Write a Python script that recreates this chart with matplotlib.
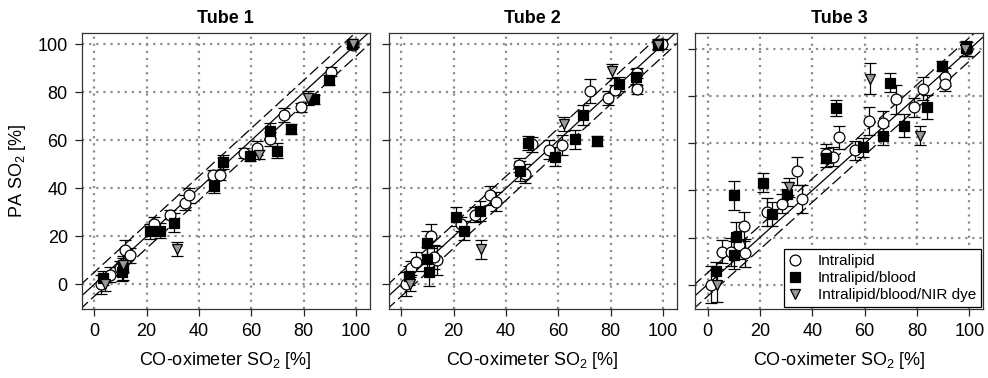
import matplotlib
matplotlib.use("Agg")
import matplotlib.pyplot as plt
import numpy as np

plt.rcParams['font.family'] = ['Liberation Sans', 'DejaVu Sans']
plt.rcParams['mathtext.fontset'] = 'custom'
plt.rcParams['mathtext.rm'] = 'Liberation Sans'

titles = ["Tube 1", "Tube 2", "Tube 3"]
series_names = ["Intralipid", "Intralipid/blood", "Intralipid/blood/NIR dye"]

# Tube 1
t1_lip_x = [2.5, 6, 10, 11.8, 13.7, 23, 29, 34.6, 36.3, 45.4, 48, 57, 62, 67, 72.3, 79, 90.5, 98.7]
t1_lip_y = [0, 4, 6.7, 14.3, 12, 25, 29, 34, 37, 45.5, 45.5, 54.6, 56.7, 60.4, 70.5, 73.7, 88.6, 99.7]
t1_lip_e = [4, 3, 3, 4, 3, 3, 2, 3, 3, 2, 2, 2, 3, 3, 3, 2, 2, 1]
t1_bld_x = [3.5, 10.5, 11, 21.3, 25, 30.5, 45.7, 49.2, 59.4, 67, 69.8, 75, 83.8, 89.6, 98.4]
t1_bld_y = [2.5, 5.3, 6.7, 22, 22.4, 25.7, 41, 51, 53.5, 64, 55.7, 64.6, 77, 85, 100]
t1_bld_e = [3, 4, 5, 3, 3, 4, 3, 3, 2, 3, 3, 2, 2, 2, 1]
t1_dye_x = [4.2, 11, 31.7, 63, 81.6, 98.7]
t1_dye_y = [0, 8, 14.6, 54, 77.5, 100]
t1_dye_e = [3, 3, 3, 2, 3, 1]

# Tube 2
t2_lip_x = [1.7, 3.8, 5.5, 11.4, 13.7, 12.5, 22.9, 28.3, 33.8, 36, 44.9, 47.4, 50, 56.3, 61.4, 72, 78.8, 81.7, 90, 90, 99.5]
t2_lip_y = [0, 6.7, 9.4, 20.3, 10, 11.5, 25, 29, 37, 34.4, 49.7, 46, 58.3, 56, 58, 80.6, 77.5, 81, 81.2, 88, 100]
t2_lip_e = [5, 3, 4, 5, 6, 5, 3, 3, 4, 4, 3, 4, 3, 4, 4, 5, 3, 2, 2, 2, 2]
t2_bld_x = [2.9, 9.9, 9.7, 10.5, 21, 23.9, 30, 45.2, 48.4, 58.8, 66.5, 69.4, 74.7, 83.2, 89.6, 98.2]
t2_bld_y = [3.6, 17, 10.4, 5.3, 28.2, 22.4, 30.5, 47.2, 58.75, 53.2, 60.4, 70.5, 59.7, 83.5, 86.5, 100]
t2_bld_e = [4, 5, 5, 6, 4, 4, 4, 4, 3, 4, 4, 4, 2, 3, 3, 2]
t2_dye_x = [3.3, 30.5, 62, 80.4, 98.2]
t2_dye_y = [0, 14.6, 66.7, 88.9, 99.7]
t2_dye_e = [3, 4, 3, 3, 2]

# Tube 3
t3_lip_x = [1.5, 5.6, 8.8, 12, 13.9, 14.2, 22.8, 28.5, 34, 35.9, 45.4, 47.8, 50.1, 56.5, 61.8, 67, 72.1, 78.8, 82.2, 90.6, 90.6, 99.1]
t3_lip_y = [0, 14, 14, 16.9, 24.7, 13.3, 30.7, 34.3, 48.3, 36.4, 55.7, 54.3, 62.6, 57.1, 69.4, 68.6, 78.7, 75.4, 83.3, 88.3, 85.4, 100]
t3_lip_e = [8, 5, 6, 6, 6, 6, 6, 4, 6, 6, 4, 4, 5, 4, 6, 5, 6, 4, 5, 4, 3, 3]
t3_bld_x = [3.3, 10, 10.7, 10.3, 21.2, 24.7, 30.4, 45.4, 49.1, 59.3, 66.9, 69.8, 75.2, 83.8, 89.6, 98.9]
t3_bld_y = [5.7, 37.9, 20.4, 12.6, 43.3, 30, 38.6, 54, 75.1, 58.3, 63.3, 85.9, 67.6, 75.4, 93, 100.4]
t3_bld_e = [4, 6, 6, 6, 4, 5, 5, 4, 3.5, 4, 4, 4, 5, 5, 2, 3]
t3_dye_x = [3.7, 31, 62, 81.3, 98.5]
t3_dye_y = [-0.3, 41.4, 87.6, 63.3, 100]
t3_dye_e = [7, 4, 6.7, 4, 3]

lip = [(t1_lip_x, t1_lip_y, t1_lip_e), (t2_lip_x, t2_lip_y, t2_lip_e), (t3_lip_x, t3_lip_y, t3_lip_e)]
bld = [(t1_bld_x, t1_bld_y, t1_bld_e), (t2_bld_x, t2_bld_y, t2_bld_e), (t3_bld_x, t3_bld_y, t3_bld_e)]
dye = [(t1_dye_x, t1_dye_y, t1_dye_e), (t2_dye_x, t2_dye_y, t2_dye_e), (t3_dye_x, t3_dye_y, t3_dye_e)]
ylims = [(-10.3, 104.8), (-10.3, 104.8), (-10.4, 107.1)]

fig = plt.figure(figsize=(9.88, 3.78), dpi=100)
lefts = [0.0827, 0.3934, 0.7034]

for i in range(3):
    ax = fig.add_axes([lefts[i], 0.1825, 0.2915, 0.731])
    ax.set_xlim(-4.8, 105.2)
    ax.set_ylim(*ylims[i])
    ticks = [0, 20, 40, 60, 80, 100]
    ax.set_xticks(ticks)
    ax.set_yticks(ticks)
    ax.grid(True, color='#8c8c8c', linestyle=(0, (1, 2.2)), linewidth=1.6)
    ax.set_axisbelow(True)
    ax.tick_params(direction='out', length=5, width=0.9, labelsize=13, pad=5, color='#222222')
    if i > 0:
        ax.tick_params(axis='y', labelleft=False)
    for sp in ax.spines.values():
        sp.set_linewidth(0.9)
        sp.set_color('#333333')

    xx = np.array([-10, 110])
    ax.plot(xx, xx, color='black', lw=0.9, zorder=2)
    ax.plot(xx, xx + 5, color='black', lw=0.9, ls=(0, (9, 3.5)), zorder=2)
    ax.plot(xx, xx - 5, color='black', lw=0.9, ls=(0, (9, 3.5)), zorder=2)

    styles = [
        (lip[i], dict(marker='o', mfc='white', mec='black', ms=7.8)),
        (bld[i], dict(marker='s', mfc='black', mec='black', ms=6.8)),
        (dye[i], dict(marker='v', mfc='#999999', mec='black', ms=7.3)),
    ]
    handles = []
    for (x, y, e), st in styles:
        ax.errorbar(x, y, yerr=e, fmt='none', ecolor='black', elinewidth=0.9,
                    capsize=4.5, capthick=0.9, zorder=3)
        h, = ax.plot(x, y, ls='none', mew=0.9, zorder=4, **st)
        handles.append(h)

    ax.set_title(titles[i], fontsize=13, fontweight='bold', pad=7)
    ax.set_xlabel(r"CO-oximeter SO$_2$ [%]", fontsize=13, labelpad=7)
    if i == 0:
        ax.set_ylabel(r"PA SO$_2$ [%]", fontsize=13, labelpad=7)
    if i == 2:
        leg = ax.legend(handles, series_names, loc='lower right', fontsize=11,
                        frameon=True, fancybox=False, borderaxespad=0.15,
                        handlelength=0.8, handletextpad=1.1, labelspacing=0.2,
                        borderpad=0.3)
        leg.get_frame().set_edgecolor('black')
        leg.get_frame().set_linewidth(0.9)
        leg.get_frame().set_alpha(1)

fig.savefig("out.png", dpi=100)
